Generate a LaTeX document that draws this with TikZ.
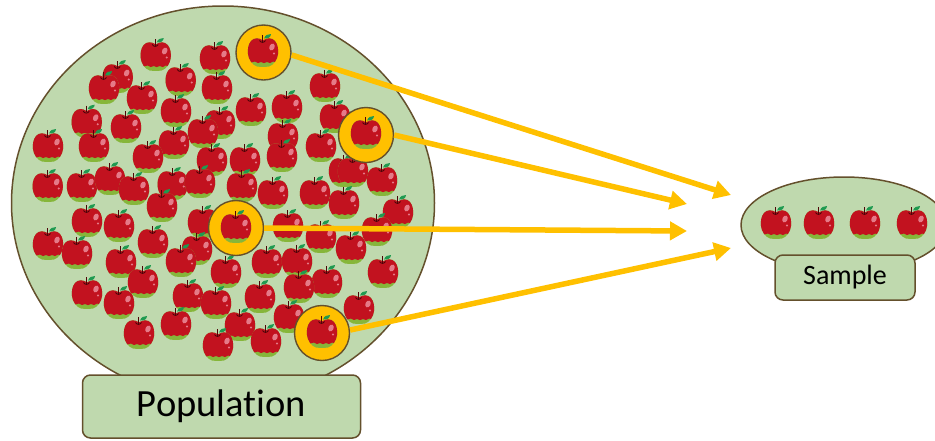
\documentclass[tikz,border=0pt]{standalone}
\usepackage{fontspec}
\setmainfont[Ligatures=NoCommon,Contextuals=NoAlternate]{Carlito}
\usetikzlibrary{shapes.geometric,arrows.meta}
\definecolor{gfill}{HTML}{BFD9AE}
\definecolor{edgeb}{HTML}{64502C}
\definecolor{gold}{HTML}{FFC000}
\definecolor{appred}{HTML}{C2121F}
\definecolor{appgreen}{HTML}{86B63A}
\definecolor{appstem}{HTML}{4D0508}
\definecolor{appleaf}{HTML}{1F9A50}
\definecolor{apppink}{HTML}{E57A88}
\tikzset{
  blob/.style={ellipse,draw=edgeb,fill=gfill,line width=1.5pt,inner sep=0pt},
  labelbox/.style={rectangle,rounded corners=8pt,draw=edgeb,fill=gfill,line width=1.5pt,inner sep=0pt,text=black},
  ringmark/.style={circle,draw=edgeb,fill=gold,line width=1.4pt,minimum size=55pt,inner sep=0pt},
  pick/.style={draw=gold,line width=5.5pt,-{Triangle[length=17pt,width=18pt]},shorten >=0pt},
}
\newcommand{\applepath}{(0,-11.5) .. controls (4,-14.5) and (9,-14.5) .. (12,-11) .. controls (15,-7.5) and (15.5,-2) .. (15,2) .. controls (14.5,7) and (11,13) .. (6,14.5) .. controls (3,15) and (-3,15) .. (-6,14.5) .. controls (-11,13) and (-14.5,7) .. (-15,2) .. controls (-15.5,-2) and (-15,-7.5) .. (-12,-11) .. controls (-9,-14.5) and (-4,-14.5) .. (0,-11.5) -- cycle}
\newcommand{\applemark}[2]{%
  \begin{scope}[shift={(#1,#2)}]
    \fill[appgreen] \applepath;
    \begin{scope}
      \clip \applepath;
      \fill[appred] (-17,-17) -- (17,-17) -- (17,8) .. controls (14,11) and (12,11) .. (10,9.5) .. controls (8,11.5) and (6,11.5) .. (4,10) .. controls (2,11.5) and (0,11.5) .. (-2,10) .. controls (-4,11.5) and (-6,11.5) .. (-8,9.5) .. controls (-10,11) and (-13,11) .. (-17,8) -- cycle;
    \end{scope}
    \fill[appleaf] (1,-13.5) .. controls (2,-17) and (5,-18) .. (8,-18) .. controls (8,-15) and (5,-13) .. (1,-13.5) -- cycle;
    \draw[appstem,line width=1.2pt] (-0.5,-17) -- (-0.5,-10.5);
    \draw[appstem,line width=0.9pt] (-3.5,-11.5) .. controls (-2,-9) and (1,-9) .. (2.5,-11.5);
    \fill[apppink,rotate around={-25:(9,-5)}] (9,-5) ellipse (2.6 and 3.6);
    \fill[apppink] (11,1.5) circle (1.1);
  \end{scope}}
\begin{document}
\begin{tikzpicture}[x=1pt,y=-1pt]
\useasboundingbox (0,0) rectangle (935,440);
\clip (0,0) rectangle (935,440);
\node[blob,minimum width=423pt,minimum height=394pt] (population) at (223,203) {};
\node[blob,minimum width=206pt,minimum height=96pt] (sample) at (844,225) {};
\node[labelbox,minimum width=278pt,minimum height=63pt,font=\fontsize{38.5}{40}\selectfont] (poplabel) at (221.5,406.5) {\raisebox{-2pt}{Population}};
\node[labelbox,minimum width=140pt,minimum height=45pt,font=\fontsize{28}{30}\selectfont] (samplabel) at (845,277.5) {\raisebox{-1pt}{Sample}};
\foreach \x/\y in {
 155.7/56,215/59,117.7/78,104/89,180.7/81,217/89,142/99,325/87,176/112,251/111,287/108,
 86.7/122.7,126/128,220/124,203/133,335/118,94/147,48/147,174/144,148/158,283/137,282/157,321/147,
 212/161,245/161,344/172,353/172,382/181,47.7/187,82/187,110/180,134/190,172.7/185,200/183,
 242/187,273/194,315/194,344/204,398/213,162/207,87/222,119/227,203/223,288/227,377/231,321/238,351/249,
 48/245,77/254,153/243,197/250,181/262,121/263,143/283,226/273,267/263,297/262,327/283,299/288,383/273,
 87/294,119/304,188/297,260/298,216/304,359/309,289/318,176/325,139/334,240/326,218/346,266/342}
  {\applemark{\x}{\y}}
\node[ringmark] (ring1) at (263.5,52.5) {};
\node[ringmark] (ring2) at (366,135) {};
\node[ringmark] (ring3) at (236,228) {};
\node[ringmark] (ring4) at (322,333) {};
\applemark{263}{52}
\applemark{366}{134}
\applemark{236}{228}
\applemark{322}{333}
\applemark{776}{224}
\applemark{819}{224}
\applemark{865}{224}
\applemark{912}{224}
\coordinate (t1) at (731,195);
\coordinate (t2) at (687,204);
\coordinate (t3) at (687,231);
\coordinate (t4) at (731,248);
\draw[pick] (ring1.-5) -- (t1);
\draw[pick] (ring2.east) -- (t2);
\draw[pick] (ring3.east) -- (t3);
\draw[pick] (ring4.6) -- (t4);
\end{tikzpicture}
\end{document}
